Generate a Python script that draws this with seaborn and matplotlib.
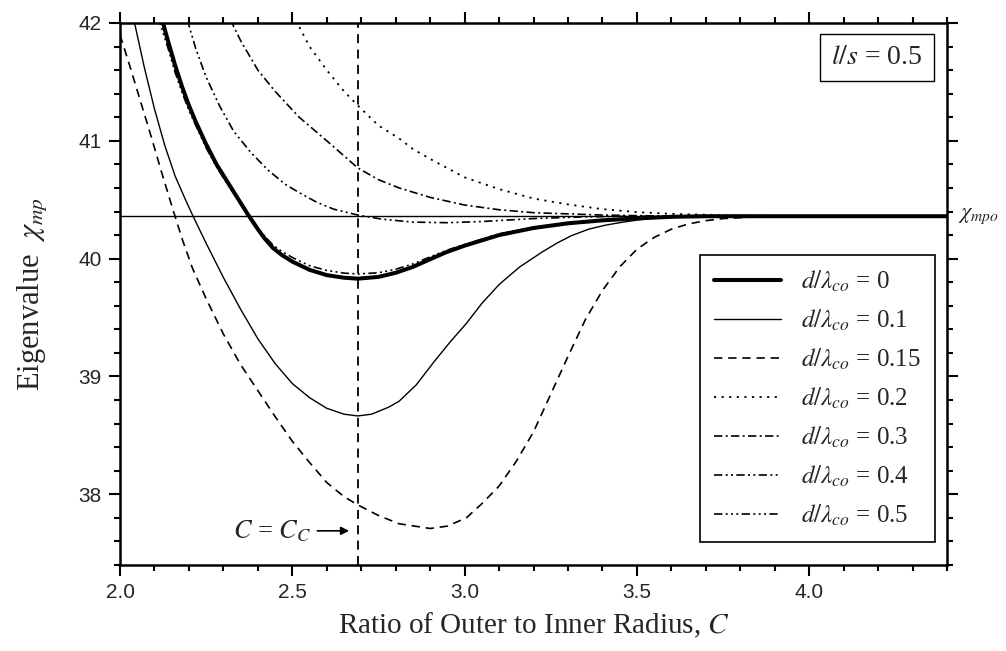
import numpy as np
import pandas as pd
import seaborn as sns
import matplotlib.pyplot as plt
from matplotlib.ticker import MultipleLocator, FormatStrFormatter

# values
x_d00 = [2.12, 2.14, 2.16, 2.18, 2.20, 2.22, 2.25, 2.28, 2.31, 2.34, 2.37, 2.40, 2.42, 2.444, 2.47,
         2.50, 2.55, 2.60, 2.65, 2.69, 2.75, 2.80, 2.85, 2.90, 2.947, 3.00, 3.10, 3.20, 3.30, 3.40,
         3.49, 3.60, 3.70, 4.40]
y_d00 = [42.05, 41.84, 41.64, 41.46, 41.30, 41.16, 40.97, 40.80, 40.66, 40.52, 40.38, 40.25, 40.17, 40.09, 40.03,
         39.975, 39.905, 39.86, 39.838, 39.83, 39.845, 39.88, 39.93, 39.995, 40.055, 40.11, 40.20, 40.26, 40.30, 40.325,
         40.34, 40.355, 40.36, 40.36]

x_d01 = [2.04, 2.07, 2.10, 2.13, 2.16, 2.19, 2.212, 2.25, 2.30, 2.35, 2.40, 2.45, 2.50, 2.55, 2.60,
         2.65, 2.69, 2.73, 2.78, 2.81, 2.86, 2.91, 2.96, 3.005, 3.05, 3.10, 3.16, 3.227, 3.27, 3.31,
         3.36, 3.41, 3.46, 3.507, 3.55, 3.60, 3.70, 4.40]
y_d01 = [42.03, 41.63, 41.27, 40.96, 40.70, 40.50, 40.36, 40.13, 39.84, 39.57, 39.32, 39.11, 38.94, 38.82, 38.73,
         38.68, 38.665, 38.68, 38.74, 38.79, 38.93, 39.12, 39.30, 39.45, 39.62, 39.78, 39.93, 40.06, 40.135, 40.195,
         40.25, 40.285, 40.31, 40.33, 40.343, 40.352, 40.36, 40.36]

x_d015 = [2.00, 2.03, 2.06, 2.09, 2.12, 2.15, 2.18, 2.21, 2.25, 2.30, 2.35, 2.40, 2.45, 2.50, 2.55,
          2.60, 2.65, 2.69, 2.75, 2.81, 2.90, 2.95, 3.005, 3.05, 3.10, 3.15, 3.20, 3.25, 3.30, 3.35,
          3.40, 3.45, 3.50, 3.55, 3.60, 3.65, 3.70, 3.75, 3.85, 3.95, 4.40]
y_d015 = [41.90, 41.62, 41.33, 41.04, 40.74, 40.45, 40.17, 39.92, 39.66, 39.36, 39.10, 38.88, 38.66, 38.45, 38.27,
          38.10, 37.98, 37.91, 37.82, 37.75, 37.71, 37.73, 37.80, 37.92, 38.07, 38.28, 38.53, 38.85, 39.17, 39.48,
          39.73, 39.93, 40.08, 40.18, 40.25, 40.295, 40.322, 40.34, 40.355, 40.36, 40.36]

x_d02 = [2.50, 2.55, 2.60, 2.65, 2.69, 2.75, 2.81, 2.85, 2.91, 3.00, 3.10, 3.20, 3.30, 3.40, 3.50,
         3.60, 3.80, 4.00, 4.40]
y_d02 = [42.08, 41.80, 41.60, 41.42, 41.30, 41.13, 41.02, 40.93, 40.83, 40.69, 40.59, 40.51, 40.46, 40.42, 40.395,
         40.38, 40.365, 40.36, 40.36]

x_d03 = [2.32, 2.35, 2.40, 2.45, 2.52, 2.60, 2.69, 2.75, 2.81, 2.90, 3.00, 3.10, 3.20, 3.40, 3.60, 4.40]
y_d03 = [42.03, 41.85, 41.60, 41.42, 41.20, 41.00, 40.77, 40.67, 40.60, 40.52, 40.455, 40.415, 40.39, 40.37, 40.36, 40.36]

x_d04 = [2.195, 2.22, 2.25, 2.29, 2.33, 2.38, 2.43, 2.48, 2.52, 2.57, 2.62, 2.69, 2.76, 2.85, 2.95,
         3.05, 3.20, 3.35, 3.50, 4.40]
y_d04 = [42.03, 41.78, 41.54, 41.29, 41.08, 40.90, 40.75, 40.63, 40.56, 40.48, 40.42, 40.37, 40.335, 40.31, 40.305,
         40.315, 40.34, 40.355, 40.36, 40.36]

x_d05 = [2.11, 2.14, 2.16, 2.18, 2.20, 2.22, 2.25, 2.28, 2.31, 2.34, 2.37, 2.40, 2.42, 2.444, 2.47,
         2.50, 2.55, 2.60, 2.65, 2.69, 2.75, 2.80, 2.85, 2.90, 2.947, 3.00, 3.10, 3.20, 3.30, 3.40,
         3.49, 3.60, 3.70, 4.40]
y_d05 = [42.05, 41.78, 41.58, 41.41, 41.26, 41.13, 40.94, 40.78, 40.64, 40.51, 40.38, 40.26, 40.19, 40.115, 40.06,
         40.01, 39.94, 39.9, 39.877, 39.87, 39.88, 39.91, 39.955, 40.015, 40.07, 40.12, 40.21, 40.265, 40.30, 40.325,
         40.34, 40.355, 40.36, 40.36]

chi_mpo = 40.36
c_crit = 2.69
legend_labels = ["0", "0.1", "0.15", "0.2", "0.3", "0.4", "0.5"]

curves = [(x_d00, y_d00), (x_d01, y_d01), (x_d015, y_d015), (x_d02, y_d02),
          (x_d03, y_d03), (x_d04, y_d04), (x_d05, y_d05)]
widths = [2.9, 1.0, 1.2, 1.3, 1.2, 1.2, 1.2]
styles = ["-", "-", (0, (5, 3.5)), (0, (1.2, 3.0)), (0, (5, 2, 1.2, 2)),
          (0, (5, 2, 1.2, 2, 1.2, 2)), (0, (5, 2, 1.2, 2, 1.2, 2, 1.2, 2))]

sns.set_style("ticks")
plt.rcParams['font.family'] = ['Liberation Serif', 'DejaVu Serif']
plt.rcParams['mathtext.fontset'] = 'stix'

fig = plt.figure(figsize=(10.06, 6.51), dpi=100)
ax = fig.add_axes([0.1193, 0.1321, 0.8221, 0.8326])

for (xs, ys), lab, lw, ls in zip(curves, legend_labels, widths, styles):
    df = pd.DataFrame({"C": xs, "chi": ys})
    sns.lineplot(data=df, x="C", y="chi", ax=ax, color="black", linewidth=lw,
                 linestyle=ls, sort=False, estimator=None,
                 label=r"$d/\lambda_{co}$ = %s" % lab)

ax.axhline(chi_mpo, color="black", lw=1.0, zorder=1)
ax.axvline(c_crit, color="black", lw=1.3, linestyle=(0, (5, 3.5)), zorder=1)

ax.set_xlim(2.0, 4.4)
ax.set_ylim(37.4, 42.0)
ax.xaxis.set_major_locator(MultipleLocator(0.5))
ax.xaxis.set_minor_locator(MultipleLocator(0.1))
ax.xaxis.set_major_formatter(FormatStrFormatter('%.1f'))
ax.yaxis.set_major_locator(MultipleLocator(1))
ax.yaxis.set_minor_locator(MultipleLocator(0.2))

for side in ["top", "right", "bottom", "left"]:
    ax.spines[side].set_visible(True)
    ax.spines[side].set_linewidth(1.8)
    ax.spines[side].set_color("black")

ax.tick_params(which="both", direction="out", top=True, right=True, width=1.5, color="black")
ax.tick_params(which="major", length=8, pad=5, labelsize=15)
ax.tick_params(which="minor", length=4)
for t in ax.get_xticklabels() + ax.get_yticklabels():
    t.set_family("Liberation Sans")

ax.set_xlabel(r"Ratio of Outer to Inner Radius, $C$", fontsize=21)
ax.set_ylabel(r"Eigenvalue  $\chi_{mp}$", fontsize=22)
ax.xaxis.set_label_coords(0.5, -0.085)
ax.yaxis.set_label_coords(-0.085, 0.5)

ax.text(1.013, chi_mpo, r"$\chi_{mpo}$", transform=ax.get_yaxis_transform(),
        fontsize=16, ha="left", va="center")

ax.text(0.915, 0.936, r"$l/s$ = 0.5", transform=ax.transAxes, fontsize=20,
        ha="center", va="center",
        bbox=dict(boxstyle="square,pad=0.4", facecolor="white", edgecolor="black", lw=1.0))

ax.annotate(r"$C$ = $C_C$", xy=(2.665, 37.69), xytext=(2.555, 37.69), fontsize=19,
            ha="right", va="center",
            arrowprops=dict(arrowstyle="-|>", color="black", lw=1.2, shrinkA=2, shrinkB=0,
                            mutation_scale=12))

leg = ax.legend(loc="lower right", bbox_to_anchor=(0.9855, 0.0424), borderaxespad=0,
                fontsize=18, frameon=True, fancybox=False, shadow=False, framealpha=1,
                edgecolor="black", handlelength=2.7, handletextpad=0.8, labelspacing=0.55,
                borderpad=0.55)
leg.get_frame().set_linewidth(1.2)

fig.savefig("out.png", dpi=100)
